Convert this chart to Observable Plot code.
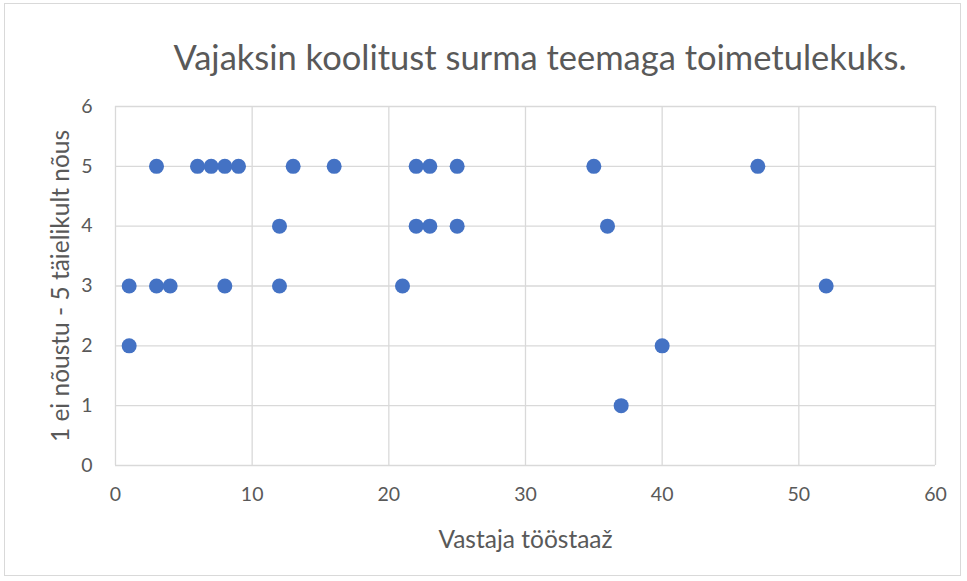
<!DOCTYPE html>
<html><head><meta charset="utf-8">
<script src="https://cdn.jsdelivr.net/npm/d3@7"></script>
<script src="https://cdn.jsdelivr.net/npm/@observablehq/plot@0.6"></script>
<style>
body{margin:0;background:#fff;font-family:Lato,"Open Sans",sans-serif;}
#wrap{position:relative;width:967px;height:581px;}
#border{position:absolute;left:4px;top:3px;width:957px;height:573px;border:1px solid #d9d9d9;box-sizing:border-box;}
#title{position:absolute;left:0;width:1080px;top:36px;text-align:center;font-size:34.5px;color:#595959;}
#chart{position:absolute;left:0;top:0;}
</style></head>
<body>
<div id="wrap"><div id="border"></div><div id="chart"></div><div id="title">Vajaksin koolitust surma teemaga toimetulekuks.</div></div>
<script>
const staaz = [3,6,7,8,9,13,16,22,23,25,35,47, 12,22,23,25,36, 1,3,4,8,12,21,52, 1,40, 37];
const hinnang = [5,5,5,5,5,5,5,5,5,5,5,5, 4,4,4,4,4, 3,3,3,3,3,3,3, 2,2, 1];
const xTicks = [0,10,20,30,40,50,60];
const yTicks = [0,1,2,3,4,5,6];
const xLabel = "Vastaja tööstaaž";
const yLabel = "1 ei nõustu - 5 täielikult nõus";
const data = staaz.map((x,i)=>({x, y: hinnang[i]}));
const chart = Plot.plot({
  width: 967, height: 581,
  marginLeft: 115, marginRight: 32, marginTop: 106, marginBottom: 116,
  style: {fontFamily: "Lato, 'Open Sans', sans-serif", fontSize: "19.5px", color: "#595959", background: "transparent"},
  x: {domain: [0,60], ticks: xTicks},
  y: {domain: [0,6], ticks: yTicks},
  marks: [
    Plot.gridX(xTicks, {stroke: "#d9d9d9", strokeOpacity: 1, strokeWidth: 1.3}),
    Plot.gridY(yTicks, {stroke: "#d9d9d9", strokeOpacity: 1, strokeWidth: 1.3}),
    Plot.axisX({ticks: xTicks, tickSize: 0, tickPadding: 22, fontSize: 19.5, fill: "#595959", tickFormat: "d",
      label: null}),
    Plot.axisY({ticks: yTicks, tickSize: 0, tickPadding: 23, fontSize: 19.5, fill: "#595959", tickFormat: "d",
      label: null}),
    Plot.axisX({ticks: [], tickSize: 0, label: xLabel, labelAnchor: "center", labelArrow: "none", labelOffset: 82, fontSize: 24.5, fill: "#595959"}),
    Plot.axisY({ticks: [], tickSize: 0, label: yLabel, labelAnchor: "center", labelArrow: "none", labelOffset: 64, fontSize: 24.5, fill: "#595959"}),
    Plot.dot(data, {x: "x", y: "y", r: 7.5, fill: "#4472C4", stroke: "none"})
  ]
});
document.getElementById("chart").appendChild(chart);
</script>
</body></html>
